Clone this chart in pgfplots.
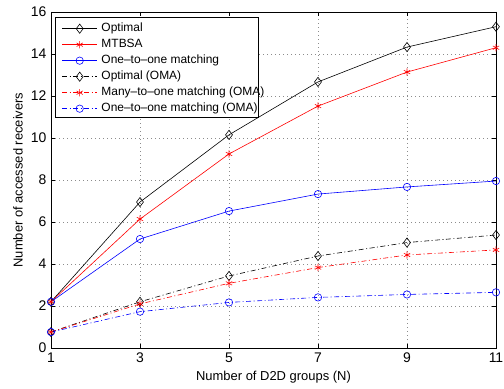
\documentclass[border=0pt]{standalone}
\usepackage{fontspec}
\setmainfont{Liberation Sans}
\usepackage{pgfplots}
\pgfplotsset{compat=1.18}
\begin{document}
\begin{tikzpicture}[x=1bp,y=1bp]
\begin{axis}[
  at={(0,0)}, anchor=south west,
  scale only axis,
  width=445bp, height=336bp,
  xmin=1, xmax=11, ymin=0, ymax=16,
  xtick={1,3,5,7,9,11}, ytick={0,2,...,16},
  tick align=inside,
  major tick length=4bp,
  tick style={black, line width=0.5pt},
  grid=major,
  grid style={dash pattern=on 0.8bp off 3.2bp, gray!90, line width=0.6pt},
  axis line style={black, line width=0.8pt},
  /pgf/number format/assume math mode=true,
  ticklabel style={font=\fontsize{14}{16}\selectfont},
  yticklabel style={xshift=-1bp},
  xticklabel style={yshift=-1bp},
  xlabel={Number of D2D groups (N)},
  ylabel={Number of accessed receivers},
  label style={font=\fontsize{13}{15}\selectfont},
  xlabel style={at={(axis description cs:0.5,-0.0863)}, anchor=center},
  ylabel style={at={(axis description cs:-0.0742,0.5)}, anchor=center},
  legend style={at={(axis description cs:0.02404,0.9688)}, anchor=north west,
    draw=none, fill=none, inner sep=0pt,
    font=\fontsize{12}{14}\selectfont, row sep=4bp, column sep=4bp,
    nodes={inner sep=0pt, text height=9bp, text depth=3bp}},
  legend cell align=left,
  legend image code/.code={\draw[mark repeat=2,mark phase=2] plot coordinates {(0bp,0bp)(17.5bp,0bp)(35bp,0bp)};},
]
\filldraw[fill=white, draw=black, line width=0.6pt]
  (axis description cs:0.008989,0.6875) rectangle (axis description cs:0.46517,0.98512);
\addplot[black, line width=0.6pt, mark=diamond, mark size=4.6bp, mark options={solid, line width=0.6pt}]
 coordinates {(1,2.2)(3,6.95)(5,10.15)(7,12.67)(9,14.33)(11,15.3)};
\addlegendentry{Optimal}
\addplot[red, line width=0.6pt, mark=asterisk, mark size=3.6bp, mark options={solid, line width=0.6pt}]
 coordinates {(1,2.2)(3,6.14)(5,9.24)(7,11.52)(9,13.14)(11,14.3)};
\addlegendentry{MTBSA}
\addplot[blue, line width=0.6pt, mark=o, mark size=3.7bp, mark options={solid, line width=0.6pt}]
 coordinates {(1,2.2)(3,5.19)(5,6.52)(7,7.33)(9,7.67)(11,7.95)};
\addlegendentry{One--to--one matching}
\addplot[black, line width=0.6pt, dash pattern=on 5bp off 2.5bp on 1bp off 2.5bp, mark=diamond, mark size=4.6bp, mark options={solid, line width=0.6pt}]
 coordinates {(1,0.76)(3,2.2)(5,3.43)(7,4.38)(9,5.02)(11,5.38)};
\addlegendentry{Optimal (OMA)}
\addplot[red, line width=0.6pt, dash pattern=on 5bp off 2.5bp on 1bp off 2.5bp, mark=asterisk, mark size=3.6bp, mark options={solid, line width=0.6pt}]
 coordinates {(1,0.76)(3,2.1)(5,3.08)(7,3.83)(9,4.43)(11,4.67)};
\addlegendentry{Many--to--one matching (OMA)}
\addplot[blue, line width=0.6pt, dash pattern=on 5bp off 2.5bp on 1bp off 2.5bp, mark=o, mark size=3.7bp, mark options={solid, line width=0.6pt}]
 coordinates {(1,0.76)(3,1.73)(5,2.17)(7,2.41)(9,2.55)(11,2.65)};
\addlegendentry{One--to--one matching (OMA)}
\end{axis}
\pgfresetboundingbox
\useasboundingbox (-51bp,-41bp) rectangle (453bp,348bp);
\end{tikzpicture}
\end{document}
